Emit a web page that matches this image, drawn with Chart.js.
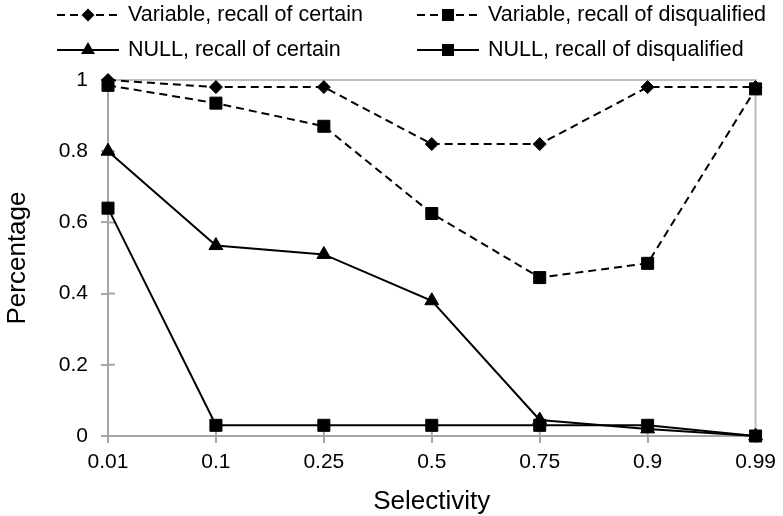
<!DOCTYPE html>
<html>
<head>
<meta charset="utf-8">
<script src="https://cdn.jsdelivr.net/npm/chart.js@4/dist/chart.umd.min.js"></script>
<style>
  html, body { margin: 0; padding: 0; background: #fff; }
  #c { display: block; }
</style>
</head>
<body>
<canvas id="c" width="783" height="516"></canvas>
<script>
// ---- Data ----
const categories = ['0.01', '0.1', '0.25', '0.5', '0.75', '0.9', '0.99'];
const varCertain = [1.0, 0.98, 0.98, 0.82, 0.82, 0.98, 0.98];
const varDisqualified = [0.985, 0.935, 0.87, 0.625, 0.445, 0.485, 0.975];
const nullCertain = [0.80, 0.535, 0.51, 0.38, 0.045, 0.02, 0.0];
const nullDisqualified = [0.64, 0.03, 0.03, 0.03, 0.03, 0.03, 0.0];
const seriesNames = [
  'Variable, recall of certain',
  'Variable, recall of disqualified',
  'NULL, recall of certain',
  'NULL, recall of disqualified'
];
const yTicks = [0, 0.2, 0.4, 0.6, 0.8, 1];
const yTickLabels = ['0', '0.2', '0.4', '0.6', '0.8', '1'];

const FONT = '"Liberation Sans", Arial, Helvetica, sans-serif';
const FS = 21;
const TITLE_FS = 26;
const AXIS = '#a6a6a6';
const FRAME = '#bdbdbd';
const DASH = [8, 5];

function ds(label, data, dashed, style, radius) {
  return {
    label, data,
    borderColor: '#000', backgroundColor: '#000',
    borderWidth: 2,
    borderDash: dashed ? DASH : [],
    pointStyle: style, pointRadius: radius, pointHoverRadius: radius,
    pointBorderWidth: 1, pointBackgroundColor: '#000', pointBorderColor: '#000',
    tension: 0, fill: false, clip: false
  };
}

function drawMarker(ctx, style, x, y, r) {
  ctx.save();
  ctx.fillStyle = '#000';
  ctx.setLineDash([]);
  ctx.beginPath();
  if (style === 'rectRot') {
    ctx.moveTo(x, y - r); ctx.lineTo(x + r, y); ctx.lineTo(x, y + r); ctx.lineTo(x - r, y);
  } else if (style === 'rect') {
    const s = r * Math.SQRT1_2;
    ctx.rect(x - s, y - s, 2 * s, 2 * s);
  } else if (style === 'triangle') {
    ctx.moveTo(x, y - r);
    ctx.lineTo(x + r * Math.sin(Math.PI / 3), y + r * 0.5);
    ctx.lineTo(x - r * Math.sin(Math.PI / 3), y + r * 0.5);
  }
  ctx.closePath();
  ctx.fill();
  ctx.restore();
}

const legendPlugin = {
  id: 'customLegend',
  afterDraw(chart) {
    const ctx = chart.ctx;
    const cols = [57, 417];
    const rows = [15, 50];
    const lineLen = 62;
    chart.data.datasets.forEach((d, i) => {
      const x0 = cols[i % 2];
      const y = rows[Math.floor(i / 2)];
      ctx.save();
      ctx.strokeStyle = '#000';
      ctx.lineWidth = 2;
      ctx.setLineDash(d.borderDash || []);
      ctx.beginPath();
      ctx.moveTo(x0, y); ctx.lineTo(x0 + lineLen, y);
      ctx.stroke();
      ctx.restore();
      drawMarker(ctx, d.pointStyle, x0 + lineLen / 2, y, d.pointRadius);
      ctx.save();
      ctx.fillStyle = '#000';
      ctx.font = '21.5px ' + FONT;
      ctx.textBaseline = 'middle';
      ctx.textAlign = 'left';
      ctx.fillText(d.label, x0 + lineLen + 9, y);
      ctx.restore();
    });
  }
};

const framePlugin = {
  id: 'frame',
  beforeDatasetsDraw(chart) {
    const {ctx, chartArea: a, scales} = chart;
    ctx.save();
    ctx.strokeStyle = FRAME;
    ctx.lineWidth = 2;
    ctx.beginPath();
    ctx.moveTo(a.left, a.top); ctx.lineTo(a.right, a.top); ctx.lineTo(a.right, a.bottom);
    ctx.stroke();
    // inner halves of cross tick marks
    ctx.strokeStyle = AXIS;
    ctx.beginPath();
    scales.y.ticks.forEach((t, i) => {
      const p = scales.y.getPixelForTick(i);
      ctx.moveTo(a.left, p); ctx.lineTo(a.left + 7, p);
    });
    scales.x.ticks.forEach((t, i) => {
      const p = scales.x.getPixelForTick(i);
      ctx.moveTo(p, a.bottom); ctx.lineTo(p, a.bottom - 7);
    });
    ctx.stroke();
    ctx.restore();
  }
};

new Chart(document.getElementById('c'), {
  type: 'line',
  data: {
    labels: categories,
    datasets: [
      ds(seriesNames[0], varCertain, true, 'rectRot', 6.5),
      ds(seriesNames[1], varDisqualified, true, 'rect', 8.5),
      ds(seriesNames[2], nullCertain, false, 'triangle', 8),
      ds(seriesNames[3], nullDisqualified, false, 'rect', 8.5)
    ]
  },
  options: {
    responsive: false,
    animation: false,
    devicePixelRatio: 1,
    layout: { padding: { top: 80, right: 24, left: 0, bottom: 0 } },
    plugins: { legend: { display: false }, tooltip: { enabled: false } },
    scales: {
      x: {
        offset: false,
        grid: { display: true, drawOnChartArea: false, drawTicks: true, tickLength: 7, color: AXIS, lineWidth: 2 },
        border: { display: true, color: AXIS, width: 2 },
        ticks: { color: '#000', font: { family: FONT, size: FS }, padding: 7, maxRotation: 0, autoSkip: false },
        title: { display: true, text: 'Selectivity', color: '#000', font: { family: FONT, size: TITLE_FS, lineHeight: 1.1 }, padding: { top: 0, bottom: 0 } },
        afterFit(s) { s.height = 80; }
      },
      y: {
        min: 0, max: 1,
        afterBuildTicks(s) { s.ticks = yTicks.map(v => ({ value: v })); },
        grid: { display: true, drawOnChartArea: false, drawTicks: true, tickLength: 7, color: AXIS, lineWidth: 2 },
        border: { display: true, color: AXIS, width: 2 },
        ticks: {
          color: '#000', font: { family: FONT, size: FS }, padding: 13,
          callback(value, index) { return yTickLabels[index]; }
        },
        title: { display: true, text: 'Percentage', color: '#000', font: { family: FONT, size: TITLE_FS, lineHeight: 1.1 }, padding: { top: 4, bottom: 0 } },
        afterFit(s) { s.width = 108; }
      }
    }
  },
  plugins: [framePlugin, legendPlugin]
});
</script>
</body>
</html>
